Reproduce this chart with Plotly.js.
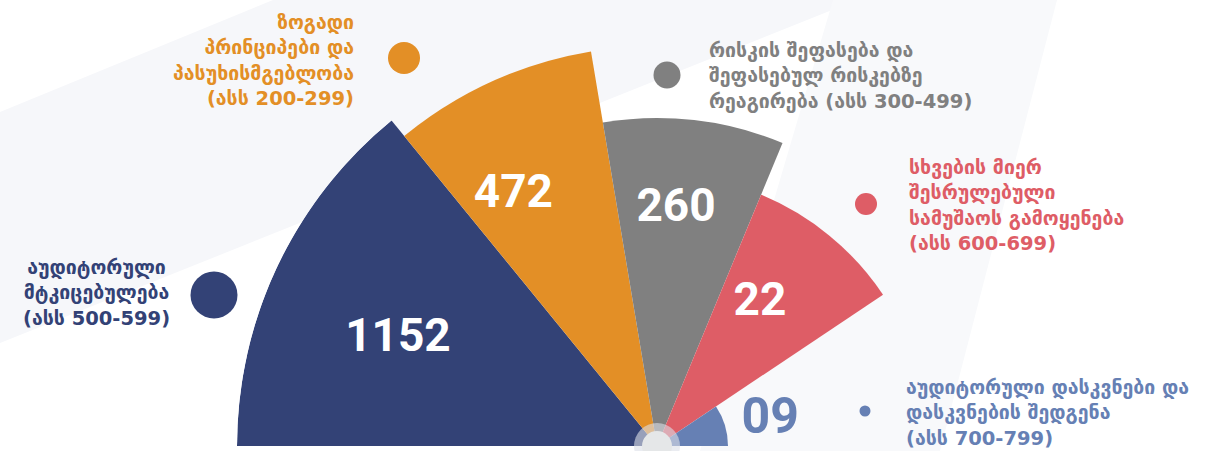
<!DOCTYPE html>
<html><head><meta charset="utf-8">
<script src="https://cdn.plot.ly/plotly-3.0.1.min.js"></script>
<style>html,body{margin:0;padding:0;background:#fff;overflow:hidden}#chart{width:1221px;height:451px}</style>
</head><body><div id="chart"></div>
<script>
// ---- data ----
const categories = [
  'აუდიტორული<br>მტკიცებულება<br>(ასს 500-599)',
  'ზოგადი<br>პრინციპები და<br>პასუხისმგებლობა<br>(ასს 200-299)',
  'რისკის შეფასება და<br>შეფასებულ რისკებზე<br>რეაგირება (ასს 300-499)',
  'სხვების მიერ<br>შესრულებული<br>სამუშაოს გამოყენება<br>(ასს 600-699)',
  'აუდიტორული დასკვნები და<br>დასკვნების შედგენა<br>(ასს 700-799)'
];
const values = [1152, 472, 260, 22, 9];
// radial length of each sector (same units as the radial axis)
const barLengths = [420, 400, 328, 272, 71];
// angular width of each sector in degrees
const spans = [50.8, 29.7, 32.0, 33.7, 33.8];

// ---- styles / layout config ----
const colors = ['#334276', '#e38f26', '#808080', '#de5d66', '#6680b4'];
const valueColors = ['#ffffff', '#ffffff', '#ffffff', '#ffffff', '#6680b4'];
const valueSizes = [46, 46, 46, 46, 50];
const valueR = [280, 289, 237, 176, 116];
const valueTheta = [157.7, 119.8, 85.4, 54.2, 12.5];
const W = 1221, H = 451;
const CX = 657, CY = 446, RPX = 420;
const labelPos = [ // px coords, anchor
  {x: 96, y: 293, xa: 'center', al: 'center'},
  {x: 356, y: 60.5, xa: 'right', al: 'right'},
  {x: 707, y: 75.5, xa: 'left', al: 'left'},
  {x: 907, y: 205.5, xa: 'left', al: 'left'},
  {x: 904, y: 413, xa: 'left', al: 'left'}
];
const dotPos = [
  {x: 214, y: 295, d: 47},
  {x: 404, y: 58, d: 32},
  {x: 667, y: 75, d: 27},
  {x: 866, y: 204, d: 22},
  {x: 865, y: 411, d: 11}
];

const fx = p => p / W;
const fy = p => 1 - p / H;
const pathOf = pts => 'M' + pts.map(p => fx(p[0]).toFixed(5) + ',' + fy(p[1]).toFixed(5)).join(' L') + ' Z';

let start = 180;
const thetaMid = spans.map(s => { const m = start - s / 2; start -= s; return m; });

const traces = [
  {
    type: 'barpolar',
    r: barLengths,
    theta: thetaMid,
    width: spans,
    marker: {color: colors, line: {width: 0}},
    hoverinfo: 'skip'
  },
  {
    type: 'scatterpolar',
    mode: 'text',
    r: valueR,
    theta: valueTheta,
    text: values.map(v => String(v).padStart(2, '0')),
    textposition: 'middle center',
    textfont: {family: 'Roboto, sans-serif', size: valueSizes, color: valueColors, weight: 700},
    hoverinfo: 'skip'
  }
];

const shapes = [
  {type: 'path', layer: 'below', xref: 'paper', yref: 'paper', line: {width: 0}, fillcolor: '#f6f7fa',
   path: pathOf([[0, 112], [273, 0], [857, 0], [0, 343]])},
  {type: 'path', layer: 'below', xref: 'paper', yref: 'paper', line: {width: 0}, fillcolor: '#f8f9fb',
   path: pathOf([[833, 0], [1057, 0], [940, 451], [700, 451]])}
];
dotPos.forEach((d, i) => {
  shapes.push({type: 'circle', layer: 'above', xref: 'paper', yref: 'paper', line: {width: 0}, fillcolor: colors[i],
    x0: fx(d.x - d.d / 2), x1: fx(d.x + d.d / 2), y0: fy(d.y + d.d / 2), y1: fy(d.y - d.d / 2)});
});
shapes.push({type: 'circle', layer: 'above', xref: 'paper', yref: 'paper', line: {width: 0}, fillcolor: 'rgba(220,224,232,0.6)',
  x0: fx(CX - 23), x1: fx(CX + 23), y0: fy(CY + 23), y1: fy(CY - 23)});
shapes.push({type: 'circle', layer: 'above', xref: 'paper', yref: 'paper', line: {width: 0}, fillcolor: '#e5e7e8',
  x0: fx(CX - 15), x1: fx(CX + 15), y0: fy(CY + 15), y1: fy(CY - 15)});

const annotations = categories.map((c, i) => ({
  text: c, xref: 'paper', yref: 'paper', x: fx(labelPos[i].x), y: fy(labelPos[i].y),
  xanchor: labelPos[i].xa, yanchor: 'middle', align: labelPos[i].al, showarrow: false,
  font: {family: 'DejaVu Sans, sans-serif', size: 19.5, color: colors[i], weight: 700}
}));

const layout = {
  width: W, height: H,
  margin: {l: 0, r: 0, t: 0, b: 0},
  paper_bgcolor: '#ffffff',
  showlegend: false,
  polar: {
    domain: {x: [fx(CX - RPX), fx(CX + RPX)], y: [fy(CY), fy(CY - RPX)]},
    sector: [0, 180],
    hole: 0,
    bgcolor: 'rgba(0,0,0,0)',
    radialaxis: {visible: false, range: [0, RPX]},
    angularaxis: {visible: false, direction: 'counterclockwise', rotation: 0}
  },
  shapes: shapes,
  annotations: annotations
};

Plotly.newPlot('chart', traces, layout, {displayModeBar: false, staticPlot: true});
</script>
</body></html>
